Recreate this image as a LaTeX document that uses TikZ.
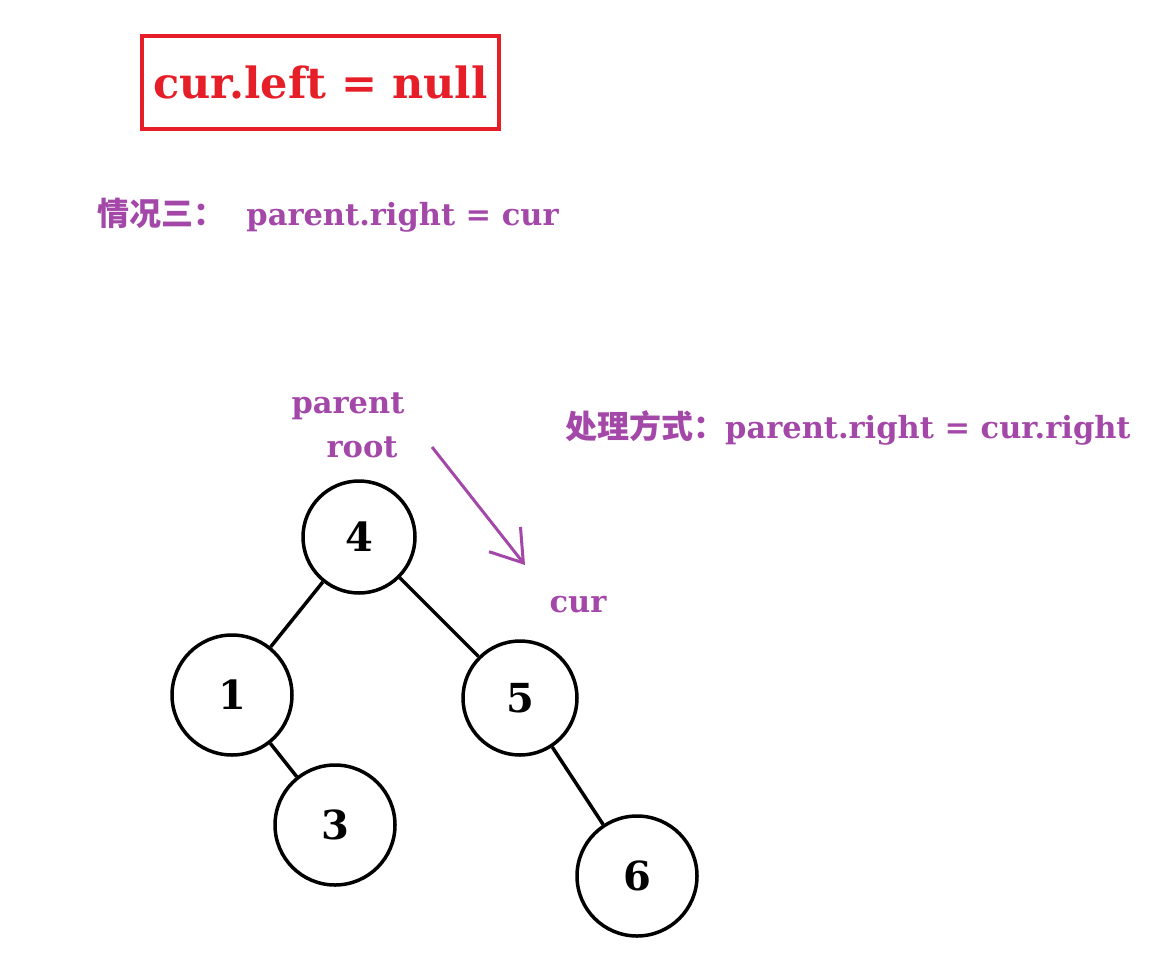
\documentclass[tikz,border=0pt]{standalone}
\usepackage{fontspec}
\setmainfont{DejaVu Serif}
\newfontfamily\cjk{Noto Sans CJK SC}
\usetikzlibrary{arrows.meta}
\definecolor{pur}{RGB}{163,72,168}
\definecolor{rd}{RGB}{230,30,40}
\begin{document}
\begin{tikzpicture}[x=1pt,y=-1pt,
  tn/.style={circle,draw,line width=3.5pt,minimum size=118pt,inner sep=0pt,font=\fontsize{40}{40}\selectfont\bfseries},
  ed/.style={line width=3.5pt},
  pl/.style={text=pur,font=\fontsize{30.5}{30.5}\selectfont\bfseries,inner sep=0pt}]
\useasboundingbox (0,0) rectangle (1158,974);
\node[draw=rd,line width=3.5pt,minimum width=357pt,minimum height=93pt,text=rd,font=\fontsize{43}{43}\selectfont\bfseries] (box) at (320.5,82.5) {cur.left = null};
\node[pl,anchor=west] (c3) at (97,215) {{\cjk\bfseries\fontsize{32}{32}\selectfont 情况三：}\ \ parent.right = cur};
\node[pl] (par) at (348,406) {parent};
\node[pl] (root) at (362,447) {root};
\node[pl,anchor=west] (way) at (565,428) {{\cjk\bfseries\fontsize{32}{32}\selectfont 处理方式：}parent.right = cur.right};
\node[pl] (cur) at (578,605) {cur};
\coordinate (as) at (432,447);
\coordinate (ae) at (525,565);
\draw[pur,line width=3pt,-{Straight Barb[length=30pt,width=40pt]}] (as) -- (ae);
\node[tn,minimum size=112pt] (n4) at (359,537) {4};
\node[tn,minimum size=120pt] (n1) at (232,695) {1};
\node[tn,minimum size=120pt] (n3) at (335,825) {3};
\node[tn,minimum size=114pt] (n5) at (520,698) {5};
\node[tn,minimum size=120pt] (n6) at (637,876) {6};
\draw[ed] (n4) -- (n1);
\draw[ed] (n4) -- (n5);
\draw[ed] (n1) -- (n3);
\draw[ed] (n5) -- (n6);
\end{tikzpicture}
\end{document}
